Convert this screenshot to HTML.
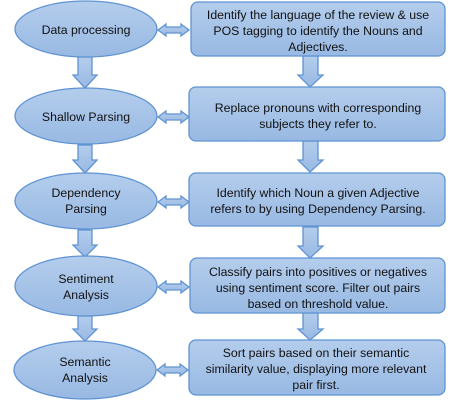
<!DOCTYPE html>
<html><head><meta charset="utf-8"><style>
html,body{margin:0;padding:0;background:#fff;}
text{font-family:"Liberation Sans",sans-serif;font-size:12.3px;fill:#111;}
</style></head><body>
<svg width="471" height="401" viewBox="0 0 471 401" xmlns="http://www.w3.org/2000/svg">
<defs>
<linearGradient id="g" x1="0" y1="0" x2="0" y2="1">
<stop offset="0" stop-color="#b4cdec"/><stop offset="1" stop-color="#98b9e3"/>
</linearGradient>
</defs>
<g fill="url(#g)" stroke="#5f93d2" stroke-width="1.3">
<!-- down arrows left -->
<path d="M78,57 H92 V75 H97 L85,88 L73,75 H78 Z"/>
<path d="M78,145 H92 V160 H97 L85,173 L73,160 H78 Z"/>
<path d="M78,230 H92 V245 H97 L85,257 L73,245 H78 Z"/>
<path d="M78,316 H92 V329 H97 L85,341 L73,329 H78 Z"/>
<!-- down arrows right -->
<path d="M303,56 H318 V75 H323 L310,87 L298,75 H303 Z"/>
<path d="M303,141 H318 V160 H323 L310,172 L298,160 H303 Z"/>
<path d="M303,227 H318 V246 H323 L310,258 L298,246 H303 Z"/>
<path d="M303,313 H318 V329 H323 L310,340 L298,329 H303 Z"/>
<!-- double arrows -->
<path d="M158,30 L166,24 V27 H181 V24 L189,30 L181,36 V33 H166 V36 Z"/>
<path d="M158,117 L166,111 V114 H181 V111 L189,117 L181,123 V120 H166 V123 Z"/>
<path d="M158,202 L166,196 V199 H181 V196 L189,202 L181,208 V205 H166 V208 Z"/>
<path d="M158,287 L166,281 V284 H181 V281 L189,287 L181,293 V290 H166 V293 Z"/>
<path d="M157,370 L165,364 V367 H180 V364 L188,370 L180,376 V373 H165 V376 Z"/>
<!-- ellipses -->
<ellipse cx="86" cy="29" rx="71" ry="28"/>
<ellipse cx="86" cy="116" rx="71" ry="28"/>
<ellipse cx="86" cy="201" rx="71" ry="28"/>
<ellipse cx="86" cy="286" rx="71" ry="30"/>
<ellipse cx="85" cy="370" rx="71" ry="29"/>
<!-- boxes -->
<rect x="191" y="2" width="254" height="54" rx="7"/>
<rect x="189" y="87" width="256" height="54" rx="7"/>
<rect x="189" y="173" width="256" height="53" rx="7"/>
<rect x="190" y="258" width="255" height="55" rx="7"/>
<rect x="189" y="340" width="256" height="55" rx="7"/>
</g>
<g text-anchor="middle">
<text x="86" y="34">Data processing</text>
<text x="86" y="121">Shallow Parsing</text>
<text x="86" y="197">Dependency</text><text x="86" y="213">Parsing</text>
<text x="86" y="283">Sentiment</text><text x="86" y="299">Analysis</text>
<text x="85" y="366">Semantic</text><text x="85" y="382">Analysis</text>
<text x="318" y="19">Identify the language of the review &amp; use</text>
<text x="318" y="35">POS tagging to identify the Nouns and</text>
<text x="318" y="51">Adjectives.</text>
<text x="318" y="112">Replace pronouns with corresponding</text>
<text x="318" y="128">subjects they refer to.</text>
<text x="318" y="197">Identify which Noun a given Adjective</text>
<text x="318" y="213">refers to by using Dependency Parsing.</text>
<text x="318" y="276">Classify pairs into positives or negatives</text>
<text x="318" y="292">using sentiment score. Filter out pairs</text>
<text x="318" y="308">based on threshold value.</text>
<text x="316" y="357">Sort pairs based on their semantic</text>
<text x="316" y="373">similarity value, displaying more relevant</text>
<text x="316" y="389">pair first.</text>
</g>
</svg>
</body></html>
